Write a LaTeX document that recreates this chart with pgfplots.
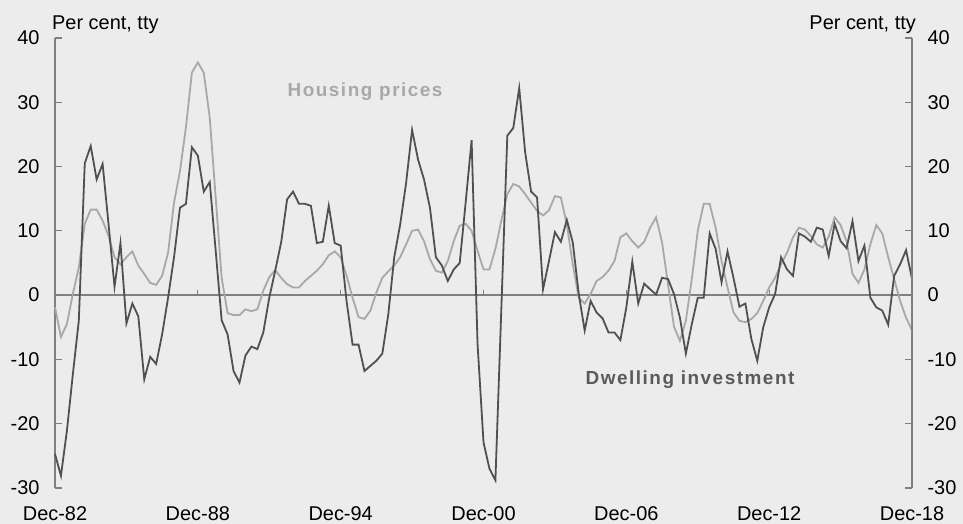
\documentclass[border=0pt]{standalone}
\usepackage{pgfplots}
\usepackage{pgfplotstable}
\pgfplotsset{compat=1.18}
\usepackage{fontspec}
\setmainfont{Liberation Sans}
\newfontfamily\labelfont[LetterSpace=8]{Liberation Sans}
\definecolor{bg}{RGB}{236,236,236}
\definecolor{darkline}{RGB}{80,80,80}
\definecolor{lightline}{RGB}{168,168,168}
\definecolor{axisgray}{RGB}{128,128,128}
\definecolor{dwlabel}{RGB}{90,90,90}

\pgfplotstableread{
q dw hp
0 -24.7 -1.9
1 -28.1 -6.5
2 -21.1 -4.5
3 -12.3 0.2
4 -4.0 4.3
5 20.5 11.1
6 23.2 13.3
7 18.0 13.3
8 20.4 11.6
9 11.0 9.2
10 1.3 5.9
11 8.1 4.8
12 -4.4 5.9
13 -1.3 6.8
14 -3.3 4.6
15 -13.1 3.3
16 -9.6 1.9
17 -10.7 1.6
18 -6.1 3.0
19 -0.4 6.6
20 5.9 14.4
21 13.6 19.3
22 14.2 26.1
23 23.0 34.6
24 21.7 36.2
25 16.1 34.6
26 17.6 27.6
27 6.9 15.2
28 -3.9 2.7
29 -6.1 -2.8
30 -11.8 -3.1
31 -13.6 -3.1
32 -9.4 -2.2
33 -8.0 -2.5
34 -8.4 -2.2
35 -5.8 0.7
36 -0.4 2.8
37 3.8 3.9
38 8.2 2.7
39 14.9 1.7
40 16.1 1.2
41 14.2 1.2
42 14.2 2.2
43 13.9 3.0
44 8.1 3.8
45 8.3 4.8
46 13.9 6.2
47 8.1 6.8
48 7.7 5.9
49 -1.0 3.0
50 -7.7 -0.4
51 -7.7 -3.4
52 -11.8 -3.7
53 -11.0 -2.4
54 -10.2 0.4
55 -9.1 2.7
56 -3.0 3.7
57 5.9 4.6
58 11.0 5.9
59 17.5 7.9
60 25.7 10.0
61 21.1 10.2
62 18.0 8.4
63 13.6 5.6
64 5.9 3.8
65 4.6 3.5
66 2.2 5.3
67 4.0 8.4
68 5.0 10.8
69 14.4 11.1
70 24.1 10.0
71 -7.6 6.9
72 -22.9 4.0
73 -27.0 4.0
74 -28.8 7.2
75 -2.0 11.6
76 24.8 15.7
77 26.0 17.3
78 32.2 16.9
79 22.2 15.7
80 16.1 14.4
81 15.2 13.1
82 0.9 12.4
83 5.3 13.2
84 9.8 15.4
85 8.3 15.2
86 11.7 11.0
87 8.2 4.8
88 0.2 -0.4
89 -5.5 -1.3
90 -0.9 0.2
91 -2.7 2.2
92 -3.6 2.8
93 -5.8 3.8
94 -5.8 5.3
95 -7.0 9.0
96 -1.9 9.6
97 5.2 8.4
98 -1.3 7.4
99 1.8 8.3
100 0.9 10.5
101 0.1 12.1
102 2.7 8.2
103 2.5 1.7
104 0.2 -4.9
105 -3.5 -7.1
106 -9.1 -4.0
107 -4.5 2.5
108 -0.4 10.0
109 -0.4 14.2
110 9.6 14.2
111 7.2 10.5
112 2.0 5.3
113 6.8 1.2
114 2.7 -2.7
115 -1.8 -4.0
116 -1.3 -4.2
117 -6.8 -3.7
118 -10.2 -2.8
119 -5.0 -0.9
120 -1.9 1.2
121 0.2 2.7
122 5.9 4.8
123 4.0 6.6
124 3.0 9.0
125 9.6 10.5
126 9.1 10.2
127 8.3 9.2
128 10.5 7.9
129 10.2 7.4
130 6.1 9.1
131 11.1 12.1
132 8.4 10.9
133 7.3 8.4
134 11.5 3.3
135 5.3 1.9
136 7.7 4.0
137 -0.4 7.9
138 -1.9 10.9
139 -2.4 9.6
140 -4.6 5.9
141 3.0 2.5
142 4.8 -0.9
143 7.0 -3.5
144 2.5 -5.5
}\datatable

\begin{document}
\begin{tikzpicture}[x=1bp,y=1bp]
\fill[bg] (0,0) rectangle (963,524);
\path[use as bounding box] (0,0) rectangle (963,524);
\pgfplotsset{
  common/.style={
    at={(55bp,36bp)}, anchor=south west,
    scale only axis, width=857bp, height=450bp,
    xmin=0, xmax=144, ymin=-30, ymax=40,
    ytick={-30,-20,...,40},
    /pgf/number format/assume math mode=true,
    tick label style={font=\fontsize{20}{24}\selectfont, text=black},
    tick align=inside,
    major tick length=7bp,
    every tick/.style={draw=axisgray, line width=1.3bp},
    axis line style={draw=axisgray, line width=1.5bp},
  }
}
\begin{axis}[common,
  axis y line*=left, axis x line*=bottom,
  x axis line style={draw=none},
  xtick={0,24,48,72,96,120,144},
  xticklabels={Dec-82,Dec-88,Dec-94,Dec-00,Dec-06,Dec-12,Dec-18},
  xtick style={draw=none},
  xticklabel style={yshift=-15bp},
  yticklabel style={xshift=-12bp},
  clip=false,
]
\draw[axisgray, line width=1.5bp] (axis cs:0,0) -- (axis cs:144,0);
\pgfplotsinvokeforeach{24,48,72,96,120}{
  \draw[axisgray, line width=1.2bp] (axis cs:#1,0) -- ([yshift=5bp]axis cs:#1,0);
}
\addplot[lightline, line width=1.8bp] table[x=q, y=hp] {\datatable};
\addplot[darkline, line width=1.8bp] table[x=q, y=dw] {\datatable};
\node[font=\labelfont\bfseries\fontsize{19}{22}\selectfont, text=lightline] at (axis cs:52.1,31.6) {Housing prices};
\node[font=\labelfont\bfseries\fontsize{19}{22}\selectfont, text=dwlabel] at (axis cs:106.7,-13.1) {Dwelling investment};
\end{axis}
\begin{axis}[common,
  axis y line*=right, axis x line=none,
  yticklabel style={xshift=12bp},
]
\end{axis}
\node[anchor=base west, font=\fontsize{20}{24}\selectfont, inner sep=0pt] at (52,494) {Per cent, tty};
\node[anchor=base east, font=\fontsize{20}{24}\selectfont, inner sep=0pt] at (916,494) {Per cent, tty};
\end{tikzpicture}
\end{document}
